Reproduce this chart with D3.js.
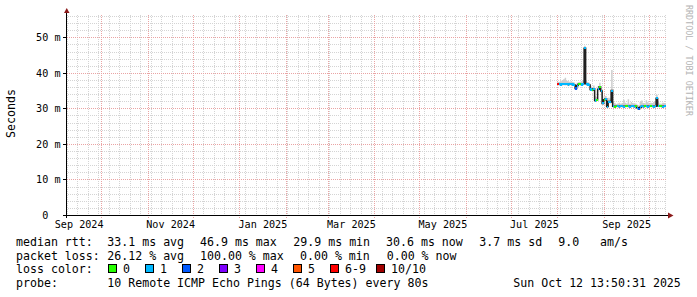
<!DOCTYPE html>
<html lang="en">
<head>
<meta charset="utf-8">
<title>smokeping</title>
<script src="https://cdn.jsdelivr.net/npm/d3@7/dist/d3.min.js"></script>
<style>
  body { margin: 0; background: #fff; }
  text { font-family: "DejaVu Sans Mono", monospace; white-space: pre; }
</style>
</head>
<body>
<script>

// time span of the graph (400 days ending at the timestamp)
var endTime = new Date(Date.UTC(2025, 9, 12, 13, 50, 31));
var spanDays = 400;
var firstSample = new Date(Date.UTC(2025, 7, 1));

// one sample per day from Aug 1 2025, values in ms
var median = [
  36.8, 36.8, 36.7, 36.8, 36.9, 36.8, 36.8, 36.7, 36.8, 36.8, 36.7, 36.6,
  35.6, 36.4, 36.8, 36.8, 36.7, 36.9, 46.9, 36.9, 36.7, 36.6,
  35.3, 35.2, 35.5, 32.2, 32.4, 35.4, 36.1, 34.9, 31.4, 32.4, 32.7, 30.5,
  31.9, 31.8, 35.0,
  30.6, 30.5, 30.6, 30.6, 30.5, 30.6, 30.6, 30.5, 30.6, 30.6, 30.6, 30.5, 30.6, 30.6, 30.5, 30.6,
  30.2, 29.9, 30.3,
  30.6, 30.5, 30.6, 30.6, 30.5, 30.6, 30.6, 30.6, 30.5, 30.6,
  32.8, 30.7, 30.6, 30.6, 30.5, 30.6, 30.6
];
// lost pings out of 10
var loss = [
  6, 1, 1, 1, 1, 1, 1, 1, 1, 1, 1, 1,
  2, 1, 0, 0, 1, 1, 1, 1, 1, 1,
  1, 0, 1, 1, 0, 1, 0, 1, 1, 0, 1, 1,
  1, 1, 1,
  1, 0, 0, 1, 1, 1, 1, 1, 0, 0, 1, 1, 1, 1, 1, 0,
  1, 2, 1,
  1, 1, 0, 1, 1, 1, 0, 1, 1, 1,
  1, 1, 0, 0, 1, 1, 1
];
var smokeHi = [
  37.4, 37.5, 37.6, 37.9, 38.2, 38.6, 37.8, 37.6, 37.5, 37.6, 37.4, 37.3,
  36.6, 37.2, 37.4, 37.5, 37.6, 37.9, 47.6, 37.8, 37.4, 37.2,
  36.2, 36.0, 36.4, 33.4, 33.2, 36.3, 37.2, 35.8, 32.6, 33.4, 33.5, 31.6,
  33.0, 32.8, 40.8,
  31.8, 31.5, 31.2, 31.4, 31.6, 31.3, 31.5, 32.4, 31.6, 31.4, 32.6, 31.3, 31.8, 31.5, 31.3, 31.4,
  31.0, 30.9, 31.8,
  32.2, 31.5, 31.4, 32.3, 31.7, 31.4, 31.6, 31.5, 31.8, 32.0,
  33.8, 31.8, 31.4, 31.3, 31.6, 31.5, 31.4
];
var smokeLo = [
  36.4, 36.5, 36.4, 36.5, 36.5, 36.4, 36.5, 36.4, 36.5, 36.5, 36.4, 36.3,
  35.2, 36.0, 36.5, 36.5, 36.4, 36.6, 36.9, 36.5, 36.4, 36.2,
  34.9, 34.9, 35.1, 31.9, 32.1, 35.0, 35.8, 34.5, 31.0, 32.0, 32.3, 30.1,
  31.5, 31.4, 31.6,
  30.2, 30.2, 30.3, 30.3, 30.2, 30.3, 30.3, 30.2, 30.3, 30.3, 30.3, 30.2, 30.3, 30.3, 30.2, 30.3,
  29.9, 29.6, 30.0,
  30.3, 30.2, 30.3, 30.3, 30.2, 30.3, 30.3, 30.3, 30.2, 30.3,
  30.6, 30.4, 30.3, 30.3, 30.2, 30.3, 30.3
];

var lossLabels = ["0", "1", "2", "3", "4", "5", "6-9", "10/10"];
var lossColors = ["#26ff00", "#00b8ff", "#0059ff", "#7e00ff", "#ff00ff", "#ff5500", "#ff0000", "#a00000"];
var yTicks = [0, 10, 20, 30, 40, 50];
var yMax = 56.27;

var statsRtt = [["median rtt:", 16], ["33.1 ms avg", 107.3], ["46.9 ms max", 200], ["29.9 ms min", 293.3],
                ["30.6 ms now", 386], ["3.7 ms sd", 479.3], ["9.0", 558.3], ["am/s", 600]];
var statsLoss = [["packet loss:", 16], ["26.12 % avg", 107.3], ["100.00 % max", 200], ["0.00 % min", 300], ["0.00 % now", 386.7]];
var probeText = "10 Remote ICMP Echo Pings (64 Bytes) every 80s";
var stampText = "Sun Oct 12 13:50:31 2025";

var W = 697, H = 297;
var svg = d3.select("body").append("svg").attr("width", W).attr("height", H);

var startTime = d3.utcDay.offset(endTime, -spanDays);
var x = d3.scaleUtc().domain([startTime, endTime]).range([66, 666]);
var y = d3.scaleLinear().domain([0, yMax]).range([215, 15]);

var data = median.map(function(m, i) {
  var t0 = d3.utcDay.offset(firstSample, i);
  var t1 = i < median.length - 1 ? d3.utcDay.offset(firstSample, i + 1) : endTime;
  return { t0: t0, t1: t1, med: m, loss: loss[i], hi: smokeHi[i], lo: smokeLo[i] };
});

function lossBucket(l) {
  if (l >= 10) return 7;
  if (l >= 6) return 6;
  return l;
}

// grid
var grid = svg.append("g").attr("shape-rendering", "crispEdges");
var minorY = d3.range(0, yMax, 2).filter(function(v) { return v % 10 !== 0; });
grid.selectAll("line.hmin").data(minorY).enter().append("line")
    .attr("x1", 66).attr("x2", 666)
    .attr("y1", function(d) { return Math.round(y(d)) + 0.5; })
    .attr("y2", function(d) { return Math.round(y(d)) + 0.5; })
    .attr("stroke", "#d4d4d4").attr("stroke-dasharray", "1,1");
grid.selectAll("line.vmin").data(d3.utcSunday.range(startTime, endTime)).enter().append("line")
    .attr("x1", function(d) { return Math.round(x(d)) + 0.5; })
    .attr("x2", function(d) { return Math.round(x(d)) + 0.5; })
    .attr("y1", 15).attr("y2", 215)
    .attr("stroke", "#d4d4d4").attr("stroke-dasharray", "1,1");
grid.selectAll("line.hmaj").data(yTicks.slice(1)).enter().append("line")
    .attr("x1", 63).attr("x2", 666)
    .attr("y1", function(d) { return Math.round(y(d)) + 0.5; })
    .attr("y2", function(d) { return Math.round(y(d)) + 0.5; })
    .attr("stroke", "#eaa4a4").attr("stroke-dasharray", "1,1");
grid.selectAll("line.vmaj").data(d3.utcMonth.range(startTime, endTime)).enter().append("line")
    .attr("x1", function(d) { return Math.round(x(d)) + 0.5; })
    .attr("x2", function(d) { return Math.round(x(d)) + 0.5; })
    .attr("y1", 15).attr("y2", 218)
    .attr("stroke", "#eaa4a4").attr("stroke-dasharray", "1,1");

// smoke
var stepPts = [];
data.forEach(function(d) { stepPts.push({ t: d.t0, d: d }); });
stepPts.push({ t: endTime, d: data[data.length - 1] });

svg.append("path")
    .datum(stepPts)
    .attr("fill", "#cdcdcd")
    .attr("d", d3.area().curve(d3.curveStepAfter)
      .x(function(p) { return x(p.t); })
      .y0(function(p) { return y(p.d.lo); })
      .y1(function(p) { return y(p.d.hi); }));

// median line
svg.append("path")
    .datum(stepPts)
    .attr("fill", "none").attr("stroke", "#202020").attr("stroke-width", 1.5)
    .attr("d", d3.line().curve(d3.curveStepAfter)
      .x(function(p) { return x(p.t); })
      .y(function(p) { return y(p.d.med); }));

// loss coloured median bands
var sw = 0.3;
svg.append("g").attr("shape-rendering", "crispEdges")
  .selectAll("rect").data(data).enter().append("rect")
    .attr("x", function(d) { return x(d.t0); })
    .attr("width", function(d) { return x(d.t1) - x(d.t0); })
    .attr("y", function(d) { return y(d.med + sw); })
    .attr("height", function(d) { return y(d.med - sw) - y(d.med + sw); })
    .attr("fill", function(d) { return lossColors[lossBucket(d.loss)]; });

// y axis labels
var yAxis = d3.axisLeft(y).tickValues(yTicks).tickSize(0).tickPadding(6)
    .tickFormat(function(d) { return d === 0 ? "0  " : d + " m"; });
var gy = svg.append("g").attr("transform", "translate(66.5,0)").call(yAxis);
gy.select(".domain").remove();
gy.selectAll("text").attr("font-family", "DejaVu Sans Mono").attr("font-size", "10.15px").attr("fill", "#000");

// x axis labels, centred in the middle of every second month
var labelMonths = d3.utcMonth.every(2).range(d3.utcMonth.floor(startTime), endTime);
var midMonths = labelMonths.map(function(m) {
  return new Date((m.getTime() + d3.utcMonth.offset(m, 1).getTime()) / 2);
});
var xAxis = d3.axisBottom(x).tickValues(midMonths).tickSize(0).tickPadding(6)
    .tickFormat(d3.utcFormat("%b %Y"));
var gx = svg.append("g").attr("transform", "translate(0,215)").call(xAxis);
gx.select(".domain").remove();
gx.selectAll("text").attr("font-family", "DejaVu Sans Mono").attr("font-size", "10.15px").attr("fill", "#000");

// axis lines and arrows
var axis = svg.append("g").attr("shape-rendering", "crispEdges");
axis.append("line").attr("x1", 63).attr("x2", 670).attr("y1", 215.5).attr("y2", 215.5).attr("stroke", "#000");
axis.append("line").attr("x1", 66.5).attr("x2", 66.5).attr("y1", 12).attr("y2", 218).attr("stroke", "#000");
axis.selectAll("line.yt").data(yTicks).enter().append("line")
    .attr("x1", 63).attr("x2", 66)
    .attr("y1", function(d) { return Math.round(y(d)) + 0.5; })
    .attr("y2", function(d) { return Math.round(y(d)) + 0.5; })
    .attr("stroke", "#000");
svg.append("path").attr("d", "M64,13L69.5,13L66.75,8Z").attr("fill", "#8b1a1a");
svg.append("path").attr("d", "M668,212.5L668,218.5L673.5,215.5Z").attr("fill", "#8b1a1a");

// unit label and watermark
svg.append("text").attr("transform", "translate(15,113.5) rotate(-90)")
    .attr("text-anchor", "middle").attr("font-size", "11.6px").text("Seconds");
svg.append("text").attr("transform", "translate(685.5,5) rotate(90)")
    .attr("font-size", "8.4px").attr("fill", "#b4b4b4").text("RRDTOOL / TOBI OETIKER");

// legend
var fs = "11.6px";
var legend = svg.append("g").attr("font-size", fs).attr("fill", "#000");
legend.selectAll("text.r1").data(statsRtt).enter().append("text")
    .attr("x", function(d) { return d[1]; }).attr("y", 245.8).text(function(d) { return d[0]; });
legend.selectAll("text.r2").data(statsLoss).enter().append("text")
    .attr("x", function(d) { return d[1]; }).attr("y", 259.6).text(function(d) { return d[0]; });
legend.append("text").attr("x", 16).attr("y", 273.4).text("loss color:");
var boxX = [108.5, 145.5, 182.5, 219.5, 256.5, 293.5, 330.5, 376.5];
lossLabels.forEach(function(l, i) {
  legend.append("rect").attr("x", boxX[i]).attr("y", 264.5).attr("width", 8).attr("height", 8)
      .attr("fill", lossColors[i]).attr("stroke", "#000").attr("shape-rendering", "crispEdges");
  legend.append("text").attr("x", boxX[i] + 14.5).attr("y", 273.4).text(l);
});
legend.append("text").attr("x", 16).attr("y", 287.2).text("probe:");
legend.append("text").attr("x", 107.3).attr("y", 287.2).text(probeText);
legend.append("text").attr("x", 513.3).attr("y", 287.2).text(stampText);

</script>
</body>
</html>
